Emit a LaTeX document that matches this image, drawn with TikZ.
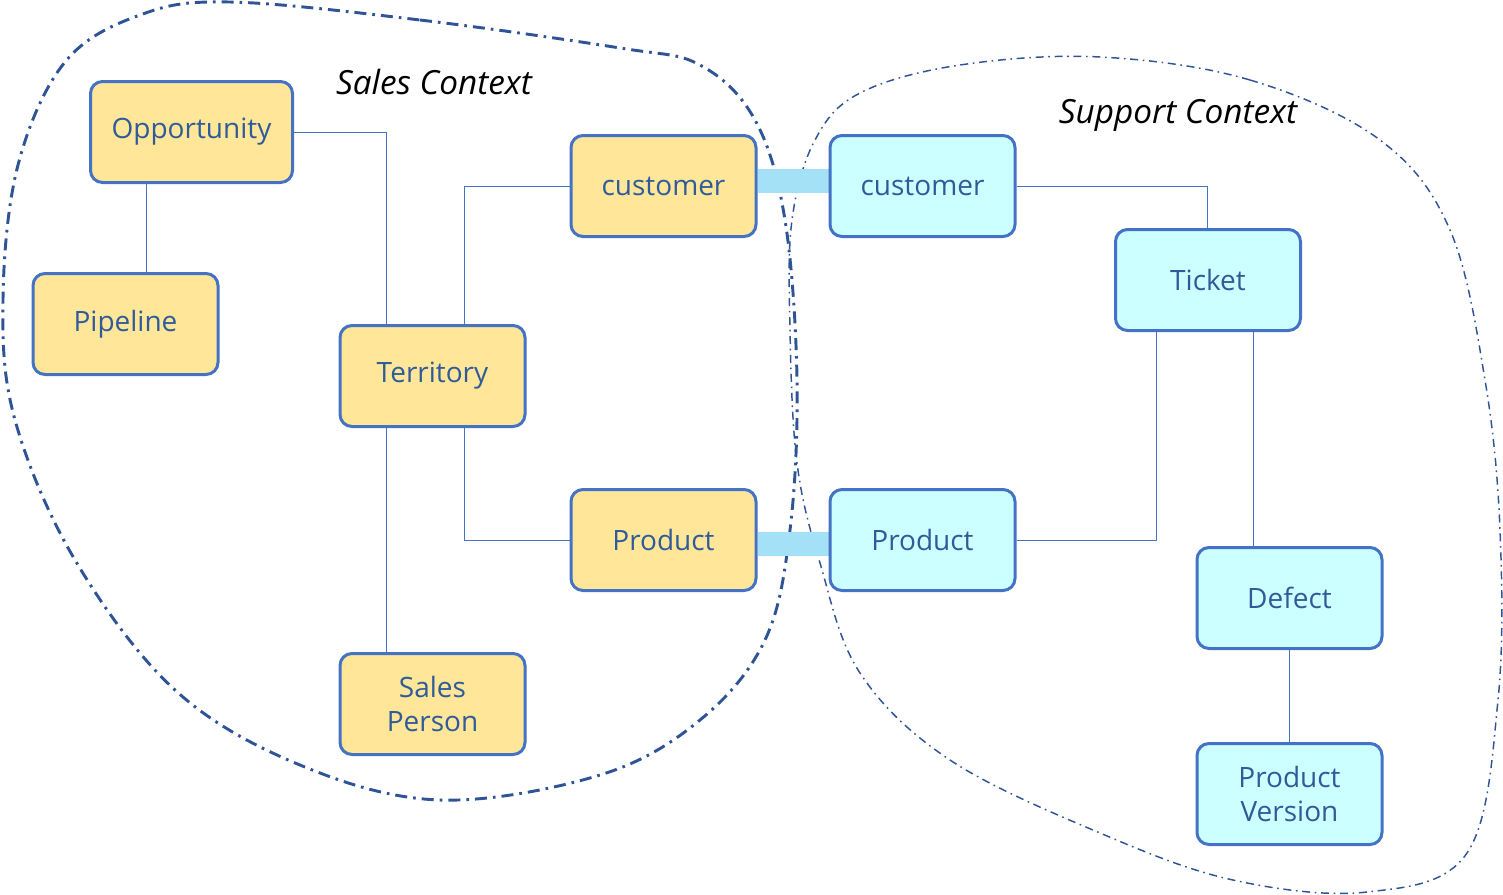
\documentclass[tikz,border=0pt]{standalone}
\usepackage{fontspec}
\setmainfont{Open Sans}
\usetikzlibrary{calc}
\definecolor{boxline}{HTML}{4472C4}
\definecolor{yellowfill}{HTML}{FFE699}
\definecolor{cyanfill}{HTML}{CCFFFF}
\definecolor{txt}{HTML}{2F5C99}
\definecolor{curve}{HTML}{2F5496}
\definecolor{barblue}{HTML}{A5E1F6}
\pgfdeclarelayer{bg}
\pgfdeclarelayer{mid}
\pgfsetlayers{bg,mid,main}
\tikzset{
  ent/.style={draw=boxline, line width=2.25pt, rounded corners=9pt,
    minimum width=138.75pt, minimum height=75.75pt, text=txt,
    font=\fontsize{21}{26}\selectfont, align=center, inner sep=0pt},
  sales/.style={ent, fill=yellowfill},
  supp/.style={ent, fill=cyanfill},
  conn/.style={draw=boxline, line width=0.75pt},
  bar/.style={draw=barblue, line width=18pt},
  salescurve/.style={draw=curve, line width=2.2pt,
    dash pattern=on 9pt off 4.5pt on 2pt off 4.5pt},
  suppcurve/.style={draw=curve, line width=1.1pt,
    dash pattern=on 6pt off 3.5pt on 1.2pt off 3.5pt},
  ctx/.style={font=\fontsize{25}{30}\selectfont\itshape, text=black}
}
\begin{document}
\begin{tikzpicture}[x=0.75pt,y=-0.75pt]
\useasboundingbox (0,0) rectangle (1503,894);
% nodes
\node[sales, minimum width=151.5pt] (opp) at (191.5,132) {Opportunity};
\node[sales] (pipe) at (125.5,324) {Pipeline};
\node[sales] (terr) at (432.5,376) {Territory};
\node[sales] (sp) at (432.5,704) {Sales\\Person};
\node[sales] (cs) at (663.5,186) {customer};
\node[sales] (ps) at (663.5,540) {Product};
\node[supp] (cu) at (922.5,186) {customer};
\node[supp] (pu) at (922.5,540) {Product};
\node[supp] (tk) at (1208,280) {Ticket};
\node[supp] (df) at (1289.5,598) {Defect};
\node[supp] (pv) at (1289.5,794) {Product\\Version};
\node[ctx] (salesctx) at (434,82) {Sales Context};
\node[ctx] (suppctx) at (1178,115) {Support Context};
% helper x positions
\coordinate (x146) at (146,0);
\coordinate (x386) at (386,0);
\coordinate (x464) at (464,0);
\coordinate (x1156) at (1156,0);
\coordinate (x1207) at (1207,0);
\coordinate (x1253) at (1253,0);
\begin{pgfonlayer}{bg}
\draw[salescurve] plot[smooth cycle, tension=0.6] coordinates {
 (230,2) (420,20) (620,48) (700,65) (755,120) (785,220) (797,380)
 (790,530) (765,640) (700,720) (600,775) (440,800) (300,765) (175,690)
 (75,560) (15,420) (3,300) (18,165) (65,62) (140,15)};
\draw[suppcurve] plot[smooth cycle, tension=0.6] coordinates {
 (1100,57) (1250,80) (1380,140) (1450,230) (1485,380) (1500,530)
 (1498,700) (1467,853) (1367,892) (1233,880) (1100,833) (950,760)
 (860,673) (820,563) (797,463) (790,330) (792,220) (815,140) (860,93) (960,65)};
\end{pgfonlayer}
\begin{pgfonlayer}{mid}
\draw[bar] ([yshift=3.75pt]cs.east) -- ([yshift=3.75pt]cu.west);
\draw[bar] ([yshift=-3pt]ps.east) -- ([yshift=-3pt]pu.west);
\draw[conn] (opp.east) -| (terr.north -| x386);
\draw[conn] (opp.south -| x146) -- (pipe.north -| x146);
\draw[conn] (cs.west) -| (terr.north -| x464);
\draw[conn] (terr.south -| x464) |- (ps.west);
\draw[conn] (terr.south -| x386) -- (sp.north -| x386);
\draw[conn] (cu.east) -| (tk.north -| x1207);
\draw[conn] (tk.south -| x1156) |- (pu.east);
\draw[conn] (tk.south -| x1253) -- (df.north -| x1253);
\draw[conn] (df.south) -- (pv.north);
\end{pgfonlayer}
\end{tikzpicture}
\end{document}
